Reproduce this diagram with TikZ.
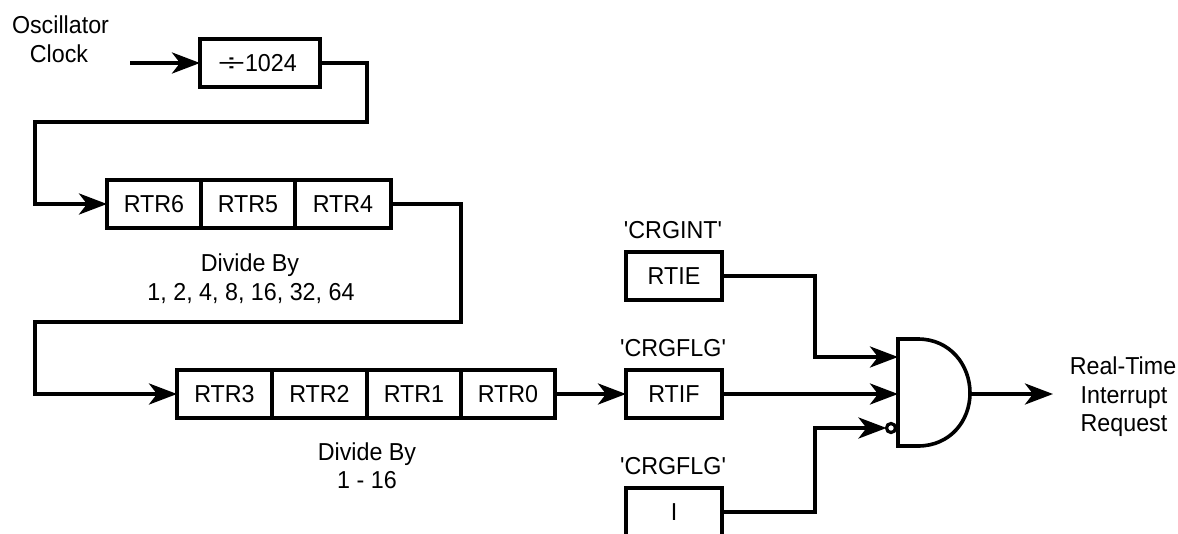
\documentclass[tikz,border=0pt]{standalone}
\usepackage{fontspec}
\newfontfamily\arialish{Liberation Sans}[FakeStretch=0.95]
\usetikzlibrary{arrows.meta}
\tikzset{
  wire/.style={line width=4pt,line join=miter},
  arr/.style={wire,-{Stealth[length=28pt,width=21pt,inset=8pt]}},
  box/.style={draw,line width=4pt,minimum height=48pt,outer sep=0pt,inner sep=0pt,text=black},
  lab/.style={inner sep=0pt,anchor=base,font=\arialish\fontsize{24.5}{26}\selectfont},
  boxt/.style={box,text height=17pt,text depth=0pt,font=\arialish\fontsize{24.5}{26}\selectfont}
}
\begin{document}
\begin{tikzpicture}[x=1pt,y=-1pt]
\clip (0,0) rectangle (1178,533);
\fill[white] (0,0) rectangle (1178,533);
% boxes
\node[boxt,minimum width=120pt] (div) at (260,63) {\hspace{-5pt}\scalebox{2.1}[1]{÷}1024};
\node[boxt,minimum width=94pt] (r6) at (154,204) {RTR6};
\node[boxt,minimum width=94pt] (r5) at (248,204) {RTR5};
\node[boxt,minimum width=96pt] (r4) at (343,204) {RTR4};
\node[boxt,minimum width=95pt] (r3) at (224.5,394) {RTR3};
\node[boxt,minimum width=95pt] (r2) at (319.5,394) {RTR2};
\node[boxt,minimum width=94pt] (r1) at (414,394) {RTR1};
\node[boxt,minimum width=94pt] (r0) at (508,394) {RTR0};
\node[boxt,minimum width=96pt] (ie) at (674,276) {RTIE};
\node[boxt,minimum width=96pt] (if) at (674,394) {RTIF};
\node[boxt,minimum width=96pt] (ibit) at (674,512) {I};
% labels
\node[lab] (osc) at (60.5,33) {Oscillator};
\node[lab] (clk) at (59,62) {Clock};
\node[lab] (d1) at (250,271) {Divide By};
\node[lab] (d2) at (251,300) {1, 2, 4, 8, 16, 32, 64};
\node[lab] (d3) at (367,460) {Divide By};
\node[lab] (d4) at (367,488) {1 - 16};
\node[lab] (c1) at (673,238) {'CRGINT'};
\node[lab] (c2) at (673,356) {'CRGFLG'};
\node[lab] (c3) at (673,474) {'CRGFLG'};
\node[lab] (rt1) at (1123,374) {Real-Time};
\node[lab] (rt2) at (1124,403) {Interrupt};
\node[lab] (rt3) at (1124,431) {Request};
% gate
\draw[line width=3.6pt,line join=miter] (898,339) -- (918,339) .. controls (950,339) and (970,365) .. (970,393) .. controls (970,421) and (950,446) .. (918,446) -- (898,446) -- cycle;
\node[circle,draw,fill=white,line width=3.2pt,minimum size=9pt,inner sep=0pt,outer sep=0pt] (bub) at (891,428) {};
\coordinate (g1) at (898,357);
\coordinate (g2) at (898,394);
\coordinate (gout) at (970,394);
\coordinate (in) at (130,63);
\coordinate (out) at (1053,394);
% connectors
\draw[arr] (in) -- (div.west);
\draw[arr] (div.east) -- ++(47,0) -- ++(0,59) -- ++(-332,0) |- (r6.west);
\draw[arr] (r4.east) -- ++(70,0) -- ++(0,118) -- ++(-426,0) |- (r3.west);
\draw[arr] (r0.east) -- (if.west);
\draw[arr] (ie.east) -- ++(93,0) |- (g1);
\draw[arr] (if.east) -- (g2);
\draw[arr] (ibit.east) -- ++(93,0) |- (bub.west);
\draw[arr] (gout) -- (out);
\end{tikzpicture}
\end{document}
